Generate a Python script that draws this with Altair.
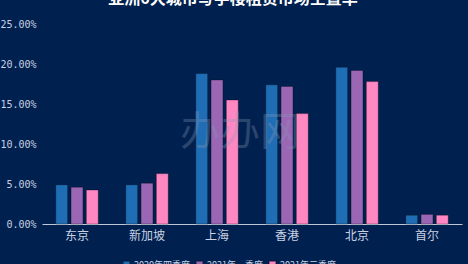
import altair as alt
import pandas as pd

cities = ["东京", "新加坡", "上海", "香港", "北京", "首尔"]
series = ["2020年四季度", "2021年一季度", "2021年二季度"]
q4_2020 = [4.9, 4.9, 18.8, 17.4, 19.6, 1.1]
q1_2021 = [4.6, 5.1, 18.0, 17.2, 19.2, 1.2]
q2_2021 = [4.25, 6.3, 15.5, 13.8, 17.8, 1.1]
colors = ["#1f6db4", "#9b67b4", "#ff88c3"]

rows = []
for i, c in enumerate(cities):
    for s, vals in zip(series, [q4_2020, q1_2021, q2_2021]):
        rows.append({"city": c, "series": s, "value": vals[i]})
df = pd.DataFrame(rows)

label_color = "#c9d1e3"

bars = alt.Chart(df).mark_bar(stroke="rgba(0,0,0,0.3)", strokeWidth=1).encode(
    x=alt.X("city:N", sort=cities, title=None,
            scale=alt.Scale(paddingInner=0, paddingOuter=0),
            axis=alt.Axis(labelAngle=0, labelColor=label_color, labelFontSize=12,
                          labelFont="Noto Sans CJK SC", ticks=False,
                          domainColor="#c0c8d8", labelPadding=6)),
    xOffset=alt.XOffset("series:N", sort=series,
                        scale=alt.Scale(paddingInner=0.22, paddingOuter=0.9)),
    y=alt.Y("value:Q", title=None,
            scale=alt.Scale(domain=[0, 25]),
            axis=alt.Axis(values=[0, 5, 10, 15, 20, 25],
                          labelExpr="format(datum.value/100, '.2%')",
                          labelColor=label_color, labelFontSize=10,
                          labelFont="DejaVu Sans Mono", grid=False,
                          domain=False, ticks=False, labelPadding=6)),
    color=alt.Color("series:N", sort=series,
                    scale=alt.Scale(domain=series, range=colors),
                    legend=alt.Legend(title=None, orient="none", direction="horizontal",
                                      legendX=80, legendY=236, symbolType="square",
                                      symbolSize=45, labelColor=label_color,
                                      labelFontSize=9, labelFont="Noto Sans CJK SC",
                                      columnPadding=3, symbolOffset=0, labelOffset=3)),
)

wm = alt.Chart(pd.DataFrame({"t": ["办办网"]})).mark_text(
    fontSize=40, font="Noto Sans CJK SC", color="#8a9ab8", opacity=0.3
).encode(x=alt.value(198), y=alt.value(109), text="t:N")

chart = alt.layer(bars, wm).properties(
    width=420, height=200,
    background="#00204f",
    padding={"left": 42, "top": 24, "right": 6, "bottom": 40},
    autosize=alt.AutoSizeParams(type="none"),
    title=alt.TitleParams("亚洲6大城市写字楼租赁市场空置率", color="#ffffff", fontSize=16,
                          font="Noto Sans CJK SC", fontWeight="bold", offset=12, dx=-19),
).configure_view(stroke=None)

chart.save("out.html", embed_options={"renderer": "svg", "actions": False})
